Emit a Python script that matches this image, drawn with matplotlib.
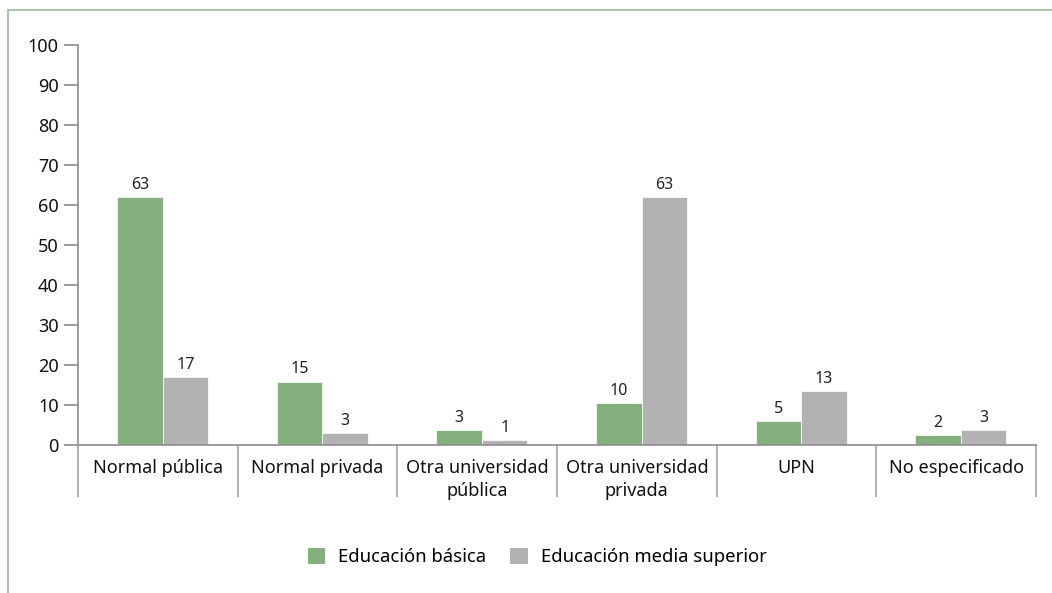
import matplotlib
matplotlib.use("Agg")
import matplotlib.pyplot as plt
from matplotlib.lines import Line2D
from matplotlib.patches import Patch
import numpy as np

plt.rcParams['font.family'] = ['Noto Sans', 'DejaVu Sans']

categories = ["Normal pública", "Normal privada", "Otra universidad\npública",
              "Otra universidad\nprivada", "UPN", "No especificado"]
series_names = ["Educación básica", "Educación media superior"]
basica = [62, 15.8, 3.75, 10.5, 6, 2.5]
media = [17, 3, 1.25, 62, 13.5, 3.75]
basica_labels = ["63", "15", "3", "10", "5", "2"]
media_labels = ["17", "3", "1", "63", "13", "3"]
yticks = [0, 10, 20, 30, 40, 50, 60, 70, 80, 90, 100]

green = "#84B07E"
gray = "#B2B2B2"
axis_col = "#8C8C8C"

fig = plt.figure(figsize=(10.52, 5.93), dpi=100)
ax = fig.add_axes([78/1052, 148/593, (1036-78)/1052, 400/593])

n = len(categories)
x = np.arange(n)
w = 0.285
off = 0.03
b1 = ax.bar(x + off - w/2, basica, w, color=green, edgecolor="white", linewidth=0.5)
b2 = ax.bar(x + off + w/2, media, w, color=gray, edgecolor="white", linewidth=0.5)
for rect, lab in zip(b1, basica_labels):
    ax.text(rect.get_x() + rect.get_width()/2, rect.get_height() + 1.1, lab,
            ha="center", va="bottom", fontsize=11.5, color="#222222")
for rect, lab in zip(b2, media_labels):
    ax.text(rect.get_x() + rect.get_width()/2, rect.get_height() + 1.1, lab,
            ha="center", va="bottom", fontsize=11.5, color="#222222")

ax.set_xlim(-0.5, n - 0.5)
ax.set_ylim(0, 100)
ax.set_yticks(yticks)
ax.set_yticklabels([str(t) for t in yticks], fontsize=13, color="#111111")
ax.set_xticks(x)
ax.set_xticklabels(categories, fontsize=13, color="#111111", linespacing=1.4)
ax.set_xticks(np.arange(n + 1) - 0.5, minor=True)
ax.tick_params(axis="x", which="major", length=0, pad=10)
ax.tick_params(axis="x", which="minor", length=37.5, width=1.2, color="#A6A6A6")
ax.tick_params(axis="y", which="major", length=10, width=1.2, color=axis_col, pad=4)

for s in ["top", "right"]:
    ax.spines[s].set_visible(False)
ax.spines["left"].set_color(axis_col)
ax.spines["bottom"].set_color(axis_col)
ax.spines["left"].set_linewidth(1.2)
ax.spines["bottom"].set_linewidth(1.2)

handles = [Patch(facecolor=green, edgecolor="none"), Patch(facecolor=gray, edgecolor="none")]
fig.legend(handles, series_names, loc="center", bbox_to_anchor=(537/1052, 1 - 557/593),
           ncol=2, frameon=False, fontsize=13.3, handlelength=0.95, handleheight=0.95,
           handletextpad=0.7, columnspacing=1.3)

border = "#A9C8A5"
fig.add_artist(Line2D([8/1052, 1], [1 - 10/593, 1 - 10/593], color=border, lw=1.5,
                      transform=fig.transFigure))
fig.add_artist(Line2D([8/1052, 8/1052], [0, 1 - 10/593], color=border, lw=1.5,
                      transform=fig.transFigure))

fig.savefig("out.png", dpi=100)
